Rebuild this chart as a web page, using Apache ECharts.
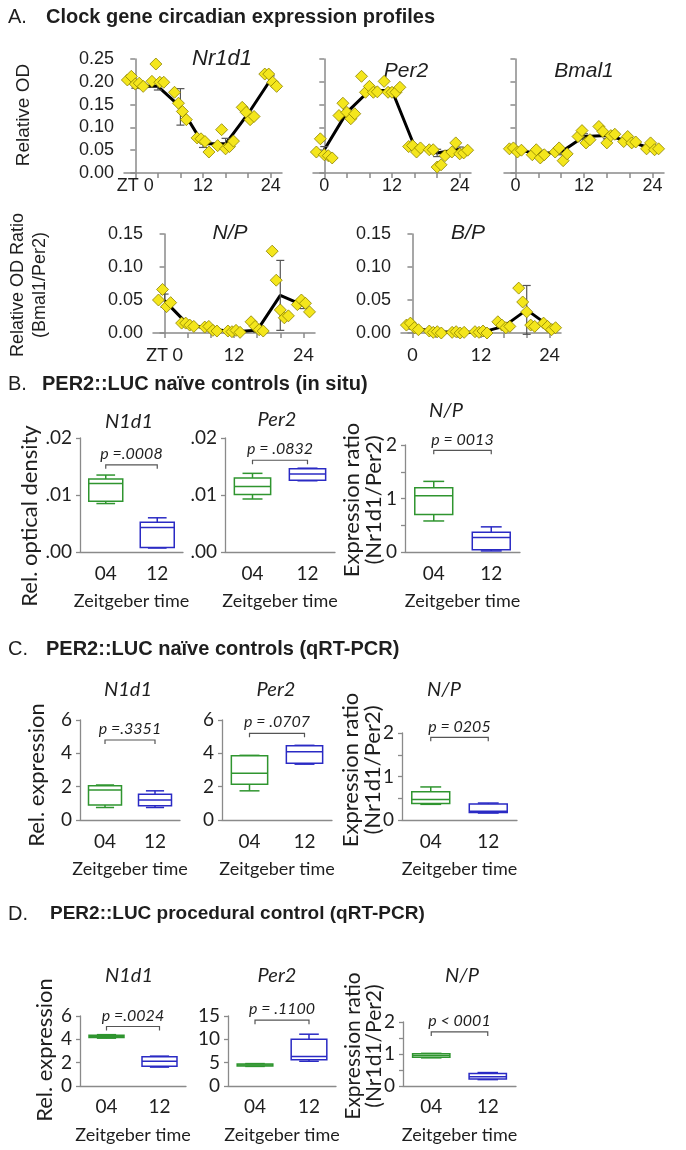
<!DOCTYPE html>
<html><head><meta charset="utf-8">
<script src="https://cdn.jsdelivr.net/npm/echarts@6/dist/echarts.min.js"></script>
<style>html,body{margin:0;padding:0;background:#fff}#c{width:686px;height:1150px}</style>
</head><body><div id="c"></div>
<script>
// ---------------- DATA ----------------
const ZT_HOURS = [0, 4, 8, 12, 16, 20, 24];
const ZT_TICKS = [0, 4, 8, 12, 16, 20, 24];
const ZT_LABELS = [0, 12, 24];

const nr1d1Pts = [
  [0.204, 0.212, 0.195, 0.197, 0.190],
  [0.201, 0.239, 0.199, 0.199],
  [0.177, 0.153, 0.135, 0.117],
  [0.077, 0.075, 0.069, 0.046],
  [0.060, 0.095, 0.053, 0.058, 0.070],
  [0.144, 0.133, 0.117, 0.124],
  [0.217, 0.217, 0.199, 0.190]
];
const nr1d1Mean = [0.190, 0.190, 0.145, 0.064, 0.064, 0.130, 0.205];
const nr1d1Err = [0.004, 0.008, 0.040, 0.008, 0.012, 0.006, 0.008];

const per2Pts = [
  [0.046, 0.075, 0.040, 0.038, 0.033],
  [0.126, 0.153, 0.133, 0.119, 0.130],
  [0.212, 0.177, 0.190, 0.177, 0.178],
  [0.201, 0.177, 0.177, 0.177, 0.188],
  [0.058, 0.060, 0.046, 0.055],
  [0.051, 0.051, 0.013, 0.018, 0.038],
  [0.046, 0.066, 0.042, 0.044, 0.050]
];
const per2Mean = [0.051, 0.133, 0.181, 0.181, 0.058, 0.044, 0.052];
const per2Err = [0.007, 0.006, 0.006, 0.005, 0.004, 0.008, 0.005];

const bmal1Pts = [
  [0.053, 0.055, 0.046, 0.050],
  [0.040, 0.051, 0.033, 0.040],
  [0.046, 0.055, 0.027, 0.042],
  [0.080, 0.093, 0.066, 0.073],
  [0.102, 0.091, 0.066, 0.082, 0.085],
  [0.069, 0.080, 0.066, 0.068],
  [0.053, 0.066, 0.051, 0.053]
];
const bmal1Mean = [0.052, 0.042, 0.046, 0.080, 0.082, 0.069, 0.053];
const bmal1Err = [0.003, 0.004, 0.006, 0.006, 0.007, 0.003, 0.004];

const npPts = [
  [0.050, 0.066, 0.040, 0.046],
  [0.015, 0.015, 0.012, 0.010],
  [0.009, 0.010, 0.004, 0.003],
  [0.003, 0.002, 0.004, 0.001],
  [0.017, 0.010, 0.005, 0.003],
  [0.124, 0.080, 0.035, 0.023, 0.026],
  [0.043, 0.050, 0.045, 0.032]
];
const npMean = [0.049, 0.013, 0.006, 0.002, 0.004, 0.057, 0.042];
const npErr = [0.010, 0.002, 0.002, 0.001, 0.003, 0.053, 0.005];

const bpPts = [
  [0.012, 0.015, 0.008, 0.005],
  [0.003, 0.001, 0.002, 0.000],
  [0.001, 0.002, 0.000, 0.001],
  [0.002, 0.001, 0.003, 0.000],
  [0.017, 0.012, 0.008, 0.010],
  [0.068, 0.047, 0.032, 0.012, 0.010],
  [0.015, 0.010, 0.005, 0.008]
];
const bpMean = [0.008, 0.002, 0.001, 0.001, 0.010, 0.035, 0.010];
const bpErr = [0.002, 0.001, 0.001, 0.001, 0.002, 0.037, 0.003];

// box plots: [min, Q1, median, Q3, max] for ZT04 and ZT12
const ZEIT_CATS = ['04', '12'];
const bN1d1 = [[0.0085, 0.0089, 0.0120, 0.0128, 0.0135], [0.0007, 0.0008, 0.0043, 0.0052, 0.0060]];
const bPer2 = [[0.0093, 0.0101, 0.0115, 0.0130, 0.0138], [0.0125, 0.0126, 0.0137, 0.0146, 0.0147]];
const bNP   = [[0.58, 0.70, 1.05, 1.20, 1.32], [0.02, 0.04, 0.27, 0.37, 0.47]];
const cN1d1 = [[0.75, 0.90, 1.80, 2.05, 2.10], [0.75, 0.85, 1.20, 1.55, 1.75]];
const cPer2 = [[1.75, 2.15, 2.80, 3.85, 3.88], [3.35, 3.40, 4.10, 4.45, 4.48]];
const cNP   = [[0.36, 0.38, 0.47, 0.65, 0.76], [0.16, 0.17, 0.20, 0.37, 0.39]];
const dN1d1 = [[4.10, 4.15, 4.25, 4.35, 4.40], [1.62, 1.70, 2.13, 2.50, 2.56]];
const dPer2 = [[4.20, 4.30, 4.50, 4.70, 4.80], [5.30, 5.60, 6.30, 10.0, 11.1]];
const dNP   = [[0.88, 0.90, 0.95, 1.01, 1.02], [0.20, 0.22, 0.29, 0.39, 0.42]];

const pLabels = ['p =.0008', 'p = .0832', 'p = 0013', 'p =.3351', 'p = .0707', 'p = 0205', 'p =.0024', 'p = .1100', 'p < 0001'];
const pBracketY = [0.0153, 0.0161, 1.90, 4.8, 5.2, 1.90, 5.1, 14.1, 1.69];

// ---------------- STYLE / BUILD ----------------
const FA = '"Liberation Sans", Arial, sans-serif';
const FB = 'Lato, "Open Sans", sans-serif';
const AXIS_C = '#8a8a8a';
const TXT = '#1e1e1e';
const BOX_COLORS = ['#2f952f', '#2a2ac4'];

const grids = [], xAxes = [], yAxes = [], series = [], graphic = [];

function renderErr(params, api) {
  const x = api.value(0);
  const lo = api.coord([x, api.value(1)]);
  const hi = api.coord([x, api.value(2)]);
  const st = { stroke: '#555', lineWidth: 1.2 };
  return { type: 'group', children: [
    { type: 'line', shape: { x1: lo[0], y1: lo[1], x2: hi[0], y2: hi[1] }, style: st },
    { type: 'line', shape: { x1: hi[0] - 4, y1: hi[1], x2: hi[0] + 4, y2: hi[1] }, style: st },
    { type: 'line', shape: { x1: lo[0] - 4, y1: lo[1], x2: lo[0] + 4, y2: lo[1] }, style: st }
  ]};
}

function renderBox(params, api) {
  const ci = api.value(0);
  const c = BOX_COLORS[ci];
  const pMin = api.coord([ci, api.value(1)]);
  const pQ1 = api.coord([ci, api.value(2)]);
  const pMed = api.coord([ci, api.value(3)]);
  const pQ3 = api.coord([ci, api.value(4)]);
  const pMax = api.coord([ci, api.value(5)]);
  const bw = api.size([1, 0])[0] * 0.66;
  const cw = bw * 0.55;
  const x = pMed[0];
  const st = { stroke: c, lineWidth: 1.5 };
  return { type: 'group', children: [
    { type: 'line', shape: { x1: x, y1: pMax[1], x2: x, y2: pQ3[1] }, style: st },
    { type: 'line', shape: { x1: x, y1: pQ1[1], x2: x, y2: pMin[1] }, style: st },
    { type: 'line', shape: { x1: x - cw / 2, y1: pMax[1], x2: x + cw / 2, y2: pMax[1] }, style: st },
    { type: 'line', shape: { x1: x - cw / 2, y1: pMin[1], x2: x + cw / 2, y2: pMin[1] }, style: st },
    { type: 'rect', shape: { x: x - bw / 2, y: pQ3[1], width: bw, height: pQ1[1] - pQ3[1] }, style: { stroke: c, lineWidth: 1.5, fill: '#fff' } },
    { type: 'line', shape: { x1: x - bw / 2, y1: pMed[1], x2: x + bw / 2, y2: pMed[1] }, style: st }
  ]};
}

function makeBracket(label) {
  return function (params, api) {
    const y = api.value(2);
    const p0 = api.coord([api.value(0), y]);
    const p1 = api.coord([api.value(1), y]);
    const t = 4;
    return { type: 'group', children: [
      { type: 'polyline', shape: { points: [[p0[0], p0[1] + t], [p0[0], p0[1]], [p1[0], p1[1]], [p1[0], p1[1] + t]] },
        style: { stroke: '#555', lineWidth: 1.2, fill: null } },
      { type: 'text', style: { text: label, x: (p0[0] + p1[0]) / 2, y: p0[1] - 3, align: 'center', verticalAlign: 'bottom',
        font: 'italic 16px ' + FB, fill: TXT } }
    ]};
  };
}

function circPanel(pos, pts, mean, err, ymax, opts) {
  grids.push(pos);
  const gi = grids.length - 1;
  xAxes.push({ type: 'value', gridIndex: gi, min: -2, max: 26,
    axisLine: { show: true, onZero: false, lineStyle: { color: AXIS_C, width: 1.5 } },
    axisTick: { show: true, customValues: ZT_TICKS, length: 5, lineStyle: { color: AXIS_C, width: 1.5 } },
    axisLabel: { show: true, customValues: ZT_LABELS, margin: opts.xMargin, fontSize: 18, fontFamily: opts.xFamily, color: TXT,
      formatter: v => (v === 0 && opts.zt) ? 'ZT 0' : String(v) },
    splitLine: { show: false } });
  yAxes.push({ type: 'value', gridIndex: gi, min: 0, max: ymax, interval: 0.05,
    axisLine: { show: true, lineStyle: { color: AXIS_C, width: 1.5 } },
    axisTick: { show: true, length: 5, lineStyle: { color: AXIS_C, width: 1.5 } },
    axisLabel: { show: opts.showY, margin: 10, fontSize: 18, fontFamily: FA, color: TXT, formatter: v => v.toFixed(2) },
    splitLine: { show: false } });
  series.push({ type: 'line', xAxisIndex: gi, yAxisIndex: gi, data: ZT_HOURS.map((t, i) => [t, mean[i]]),
    symbol: 'none', lineStyle: { color: '#000', width: 3 }, z: 2, silent: true, animation: false });
  series.push({ type: 'custom', xAxisIndex: gi, yAxisIndex: gi, data: ZT_HOURS.map((t, i) => [t, mean[i] - err[i], mean[i] + err[i]]),
    renderItem: renderErr, z: 3, silent: true, animation: false });
  const sd = [];
  pts.forEach((arr, i) => { const n = arr.length; arr.forEach((v, j) => sd.push([ZT_HOURS[i] + (j - (n - 1) / 2) * 0.7, v])); });
  series.push({ type: 'scatter', xAxisIndex: gi, yAxisIndex: gi, data: sd, symbol: 'diamond', symbolSize: 12,
    itemStyle: { color: '#f4e61c', borderColor: '#8c8200', borderWidth: 0.8, opacity: 1 }, z: 4, animation: false });
}

function boxPanel(pos, data, ymax, interval, fmt, bIdx, lblMargin, nameGap) {
  grids.push(pos);
  const gi = grids.length - 1;
  xAxes.push({ type: 'category', gridIndex: gi, data: ZEIT_CATS, boundaryGap: true,
    axisLine: { show: true, lineStyle: { color: AXIS_C, width: 1.3 } }, axisTick: { show: false },
    axisLabel: { margin: lblMargin, fontSize: 19, fontFamily: FB, color: TXT },
    name: 'Zeitgeber time', nameLocation: 'middle', nameGap: nameGap,
    nameTextStyle: { fontSize: 18, fontFamily: FB, color: TXT } });
  yAxes.push({ type: 'value', gridIndex: gi, min: 0, max: ymax, interval: interval,
    axisLine: { show: true, lineStyle: { color: AXIS_C, width: 1.3 } },
    axisTick: { show: true, length: 4, lineStyle: { color: AXIS_C, width: 1.3 } },
    axisLabel: { margin: 8, fontSize: 19, fontFamily: FB, color: TXT, formatter: fmt },
    splitLine: { show: false } });
  series.push({ type: 'custom', xAxisIndex: gi, yAxisIndex: gi, data: data.map((d, i) => [i].concat(d)),
    renderItem: renderBox, z: 3, animation: false });
  series.push({ type: 'custom', xAxisIndex: gi, yAxisIndex: gi, data: [[0, 1, pBracketY[bIdx]]],
    renderItem: makeBracket(pLabels[bIdx]), z: 4, animation: false, clip: false });
}

const fmtOD = v => v.toFixed(2).replace(/^0/, '');
const fmtInt = v => String(v);
const fmtRatio = v => (Math.abs(v - Math.round(v)) < 1e-9 ? String(Math.round(v)) : '');

// Panel A
circPanel({ left: 124, top: 59, width: 158, height: 114 }, nr1d1Pts, nr1d1Mean, nr1d1Err, 0.25, { zt: true, showY: true, xMargin: 4, xFamily: FA });
circPanel({ left: 313, top: 59, width: 158, height: 114 }, per2Pts, per2Mean, per2Err, 0.25, { zt: false, showY: false, xMargin: 4, xFamily: FA });
circPanel({ left: 504, top: 59, width: 160, height: 114 }, bmal1Pts, bmal1Mean, bmal1Err, 0.25, { zt: false, showY: false, xMargin: 4, xFamily: FA });
circPanel({ left: 153, top: 234, width: 162, height: 99 }, npPts, npMean, npErr, 0.15, { zt: true, showY: true, xMargin: 13, xFamily: FB });
circPanel({ left: 401, top: 234, width: 160, height: 99 }, bpPts, bpMean, bpErr, 0.15, { zt: false, showY: true, xMargin: 13, xFamily: FB });

// Panel B
boxPanel({ left: 80, top: 438, width: 103, height: 114 }, bN1d1, 0.02, 0.01, fmtOD, 0, 12, 40);
boxPanel({ left: 225, top: 438, width: 110, height: 114 }, bPer2, 0.02, 0.01, fmtOD, 1, 12, 40);
boxPanel({ left: 405, top: 445, width: 115, height: 107 }, bNP, 2, 0.5, fmtRatio, 2, 12, 40);
// Panel C
boxPanel({ left: 80, top: 720, width: 100, height: 100 }, cN1d1, 6, 2, fmtInt, 3, 12, 40);
boxPanel({ left: 222, top: 720, width: 110, height: 100 }, cPer2, 6, 2, fmtInt, 4, 12, 40);
boxPanel({ left: 402, top: 733, width: 115, height: 87 }, cNP, 2, 0.5, fmtRatio, 5, 12, 40);
// Panel D
boxPanel({ left: 80, top: 1016, width: 106, height: 70 }, dN1d1, 6, 2, fmtInt, 6, 11, 40);
boxPanel({ left: 228, top: 1016, width: 108, height: 70 }, dPer2, 15, 5, fmtInt, 7, 11, 40);
boxPanel({ left: 403, top: 1022, width: 113, height: 64 }, dNP, 2, 0.5, fmtRatio, 8, 11, 40);

// ---------------- TEXTS ----------------
function gText(x, y, text, font, align, rot) {
  graphic.push({ type: 'text', x: x, y: y, rotation: rot || 0, silent: true,
    style: { text: text, font: font, fill: TXT, align: align || 'center', verticalAlign: 'middle' } });
}
const R = Math.PI / 2;
// headers
gText(8, 17, 'A.', '20px ' + FA, 'left');
gText(46, 17, 'Clock gene circadian expression profiles', 'bold 20px ' + FA, 'left');
gText(8, 384, 'B.', '20px ' + FA, 'left');
gText(42, 384, 'PER2::LUC na\u00efve controls (in situ)', 'bold 20px ' + FA, 'left');
gText(8, 649, 'C.', '20px ' + FA, 'left');
gText(46, 649, 'PER2::LUC na\u00efve controls (qRT-PCR)', 'bold 20px ' + FA, 'left');
gText(8, 914, 'D.', '20px ' + FA, 'left');
gText(50, 914, 'PER2::LUC procedural control (qRT-PCR)', 'bold 19px ' + FA, 'left');
// subplot titles
gText(222, 59, 'Nr1d1', 'italic 22px ' + FA);
gText(406, 71, 'Per2', 'italic 21px ' + FA);
gText(584, 71, 'Bmal1', 'italic 21px ' + FA);
gText(230, 233, 'N/P', 'italic 21px ' + FA);
gText(468, 233, 'B/P', 'italic 21px ' + FA);
gText(129, 422, 'N1d1', 'italic 20px ' + FB);
gText(277, 420, 'Per2', 'italic 20px ' + FB);
gText(446, 411, 'N/P', 'italic 20px ' + FB);
gText(128, 690, 'N1d1', 'italic 20px ' + FB);
gText(276, 690, 'Per2', 'italic 20px ' + FB);
gText(444, 690, 'N/P', 'italic 20px ' + FB);
gText(129, 976, 'N1d1', 'italic 20px ' + FB);
gText(277, 976, 'Per2', 'italic 20px ' + FB);
gText(462, 976, 'N/P', 'italic 20px ' + FB);
// y-axis names
gText(24, 115, 'Relative OD', '19px ' + FA, 'center', R);
gText(18, 285, 'Relative OD Ratio', '18px ' + FA, 'center', R);
gText(40, 285, '(Bmal1/Per2)', '18px ' + FA, 'center', R);
gText(30, 516, 'Rel. optical density', '22px ' + FB, 'center', R);
gText(352, 500, 'Expression ratio', '22px ' + FB, 'center', R);
gText(374, 500, '(Nr1d1/Per2)', '22px ' + FB, 'center', R);
gText(37, 775, 'Rel. expression', '22px ' + FB, 'center', R);
gText(351, 770, 'Expression ratio', '22px ' + FB, 'center', R);
gText(373, 770, '(Nr1d1/Per2)', '22px ' + FB, 'center', R);
gText(45, 1050, 'Rel. expression', '22px ' + FB, 'center', R);
gText(353, 1046, 'Expression ratio', '21px ' + FB, 'center', R);
gText(374, 1046, '(Nr1d1/Per2)', '21px ' + FB, 'center', R);

const chart = echarts.init(document.getElementById('c'), null, { renderer: 'canvas', width: 686, height: 1150 });
chart.setOption({
  backgroundColor: '#fff',
  animation: false,
  grid: grids,
  xAxis: xAxes,
  yAxis: yAxes,
  series: series,
  graphic: graphic
});
</script></body></html>
